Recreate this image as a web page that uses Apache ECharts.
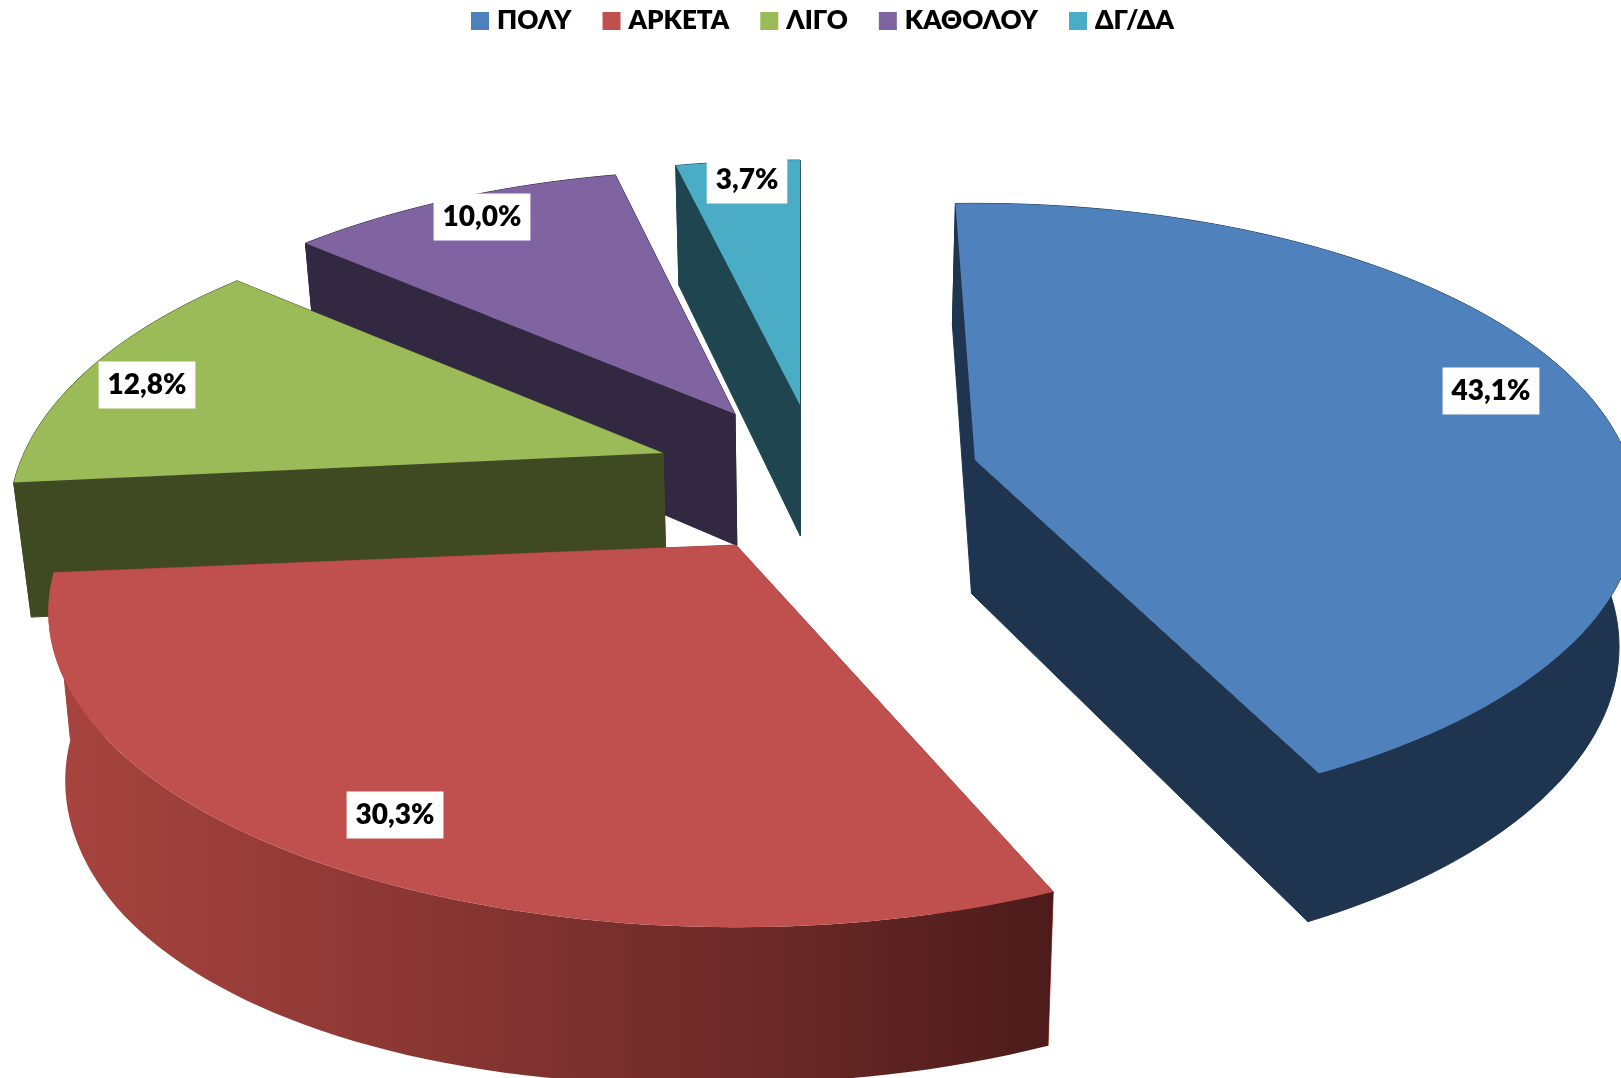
<!DOCTYPE html>
<html>
<head>
<meta charset="utf-8">
<style>
html,body{margin:0;padding:0;background:#fff;overflow:hidden}
#pie{width:1621px;height:1078px}
</style>
<script src="https://cdn.jsdelivr.net/npm/echarts@6/dist/echarts.min.js"></script>
</head>
<body>
<div id="pie"></div>
<script>
// data
var categories = ['ΠΟΛΥ', 'ΑΡΚΕΤΑ', 'ΛΙΓΟ', 'ΚΑΘΟΛΟΥ', 'ΔΓ/ΔΑ'];
var percents = [43.1, 30.3, 12.8, 10.0, 3.7];

// colours
var topColors = ['#4F81BD', '#C0504D', '#9BBB59', '#8064A2', '#4BACC6'];
var sideColors = ['#1F344F', null, '#404A22', '#332841', '#1F4550'];

// layout, in page pixels
var apexes = [[975, 460], [736, 545], [663, 453], [735, 414], [800, 405]];
var labelCenters = [[1491, 391], [395, 815], [147, 385], [482, 217], [747, 180]];
var paintOrder = [4, 3, 2, 1, 0]; // back to front
var radiusX = [653, 672, 639, 650, 650];
var radiusY = [299, 301, 301, 296, 297];
var persp = [0.165, 0.2126, 0.2126, 0.2126, 0.2126];
// excel's 3d view does not keep angles exact
var nudge = [-2, 2.4, 0, 0.5, 0];
var squash = [1, 0.981, 1, 1, 1];
var bulge = [0, 28, 0, 0, 0];

var total = percents.reduce(function (a, b) { return a + b; }, 0);

// flat top of the pie seen in perspective, theta clockwise from the back
function project(i, deg) {
    var t = (deg + nudge[i]) * Math.PI / 180;
    var d = 1 + persp[i] * Math.cos(t);
    return [apexes[i][0] + radiusX[i] * Math.sin(t) / d, apexes[i][1] - radiusY[i] * Math.cos(t) / d];
}
// same point on the underside of the slice
function lower(i, p) {
    var extra = bulge[i] * Math.max(0, Math.min(1, (724 - p[0]) / 620));
    return [p[0] + (817 - p[0]) * 0.022, p[1] * 1.047 + 112 + extra];
}
function arc(i, from, to) {
    var pts = [];
    var end = from + (to - from) * squash[i];
    var n = Math.max(2, Math.ceil((end - from) / 1.5));
    for (var k = 0; k <= n; k++) {
        pts.push(project(i, from + (end - from) * k / n));
    }
    return pts;
}
function sideFill(i) {
    if (sideColors[i]) return sideColors[i];
    return new echarts.graphic.LinearGradient(0, 0, 1, 0, [
        { offset: 0, color: '#A8443F' },
        { offset: 0.35, color: '#8C3734' },
        { offset: 0.7, color: '#6C2A28' },
        { offset: 1, color: '#4C1B1A' }
    ]);
}

function makeRender(i) {
    return function (params, api) {
        var from = api.value(0);
        var to = api.value(1);
        var apex = apexes[i];
        var rim = arc(i, from, to);
        var drop = function (p) { return lower(i, p); };
        var low = drop(apex);
        var first = rim[0], last = rim[rim.length - 1];
        var flat = i === 1 ? '#A8443F' : sideColors[i];
        var side = { fill: flat, stroke: flat, lineWidth: 1 };
        var outer = { fill: sideFill(i), stroke: i === 1 ? null : flat, lineWidth: 1 };
        var children = [
            { type: 'polygon', shape: { points: [apex, first, drop(first), low] }, style: side },
            { type: 'polygon', shape: { points: [apex, last, drop(last), low] }, style: side },
            { type: 'polygon', shape: { points: rim.concat(rim.map(drop).reverse()) }, style: outer },
            { type: 'polygon', shape: { points: [apex].concat(rim) }, style: { fill: topColors[i] } },
            {
                type: 'text',
                x: labelCenters[i][0],
                y: labelCenters[i][1],
                style: {
                    text: percents[i].toFixed(1).replace('.', ',') + '%',
                    font: '800 28px Lato, "Noto Sans", sans-serif',
                    fill: '#000',
                    align: 'center',
                    verticalAlign: 'middle',
                    backgroundColor: '#fff',
                    padding: [10, 9, 9, 9]
                }
            }
        ];
        return { type: 'group', children: children };
    };
}

var series = [];
var angle = 0;
categories.forEach(function (name, i) {
    var span = percents[i] / total * 360;
    series.push({
        name: name,
        type: 'custom',
        coordinateSystem: 'none',
        z: 2 + paintOrder.indexOf(i),
        silent: true,
        itemStyle: { color: topColors[i] },
        data: [[angle, angle + span]],
        renderItem: makeRender(i)
    });
    angle += span;
});

var myChart = echarts.init(document.getElementById('pie'));
myChart.setOption({
    animation: false,
    color: topColors,
    legend: {
        data: categories,
        left: 466,
        top: 3,
        icon: 'rect',
        itemWidth: 18,
        itemHeight: 18,
        itemGap: 31,
        selectedMode: false,
        textStyle: {
            fontFamily: 'Lato, "Noto Sans", sans-serif',
            fontWeight: 800,
            fontSize: 26,
            color: '#000',
            padding: [0, 0, 0, 3]
        }
    },
    series: series
});
</script>
</body>
</html>
